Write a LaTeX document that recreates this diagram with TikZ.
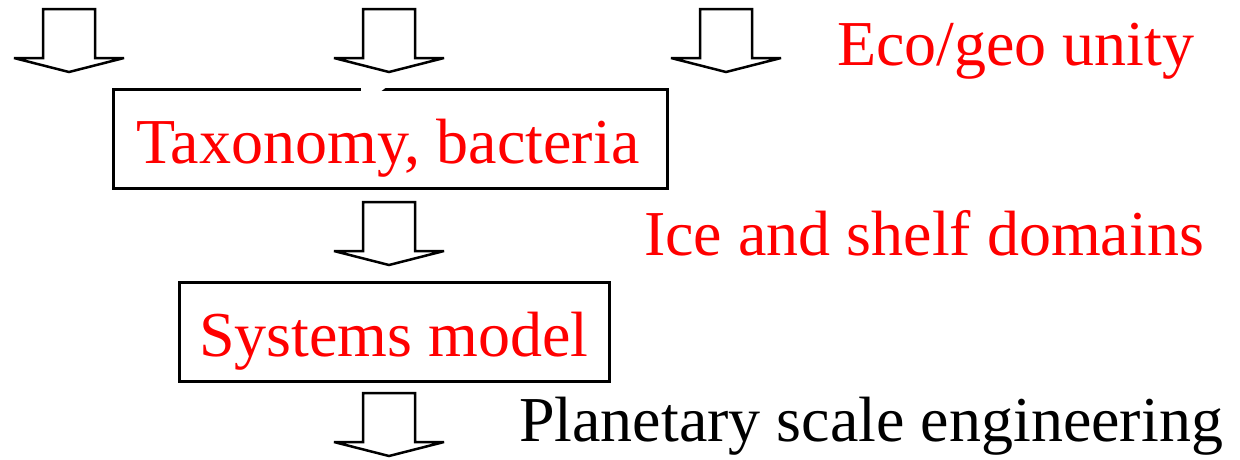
\documentclass[tikz,border=0pt]{standalone}
\usepackage{fontspec}
\setmainfont{Liberation Serif}
\begin{document}
\begin{tikzpicture}[x=1pt,y=-1pt,
  blockarrow/.pic={
    \draw[line width=2.5pt,fill=white,line join=miter,miter limit=2]
      (-26,0) -- (-26,49) -- (-55,49) -- (0,63) -- (55,49) -- (26,49) -- (26,0) -- cycle;
  },
  boxstyle/.style={draw=black,line width=3pt,fill=white},
  lbl/.style={anchor=base west,inner sep=0pt,font=\fontsize{64}{72}\selectfont},
  redlbl/.style={lbl,text=red}
]
\useasboundingbox (0,0) rectangle (1240,459);
% top arrows
\coordinate (a1) at (69,9);
\coordinate (a2) at (389,9);
\coordinate (a3) at (726,9);
\coordinate (a4) at (389,202);
\coordinate (a5) at (389,393);
\pic at (a1) {blockarrow};
\pic at (a3) {blockarrow};
% taxonomy box
\draw[boxstyle] (113,89) rectangle (667,188);
\fill[white] (361,86) -- (361,92) -- (380,92) -- (388,86) -- cycle;
\pic at (a2) {blockarrow};
\node[redlbl] (tax) at (136,163) {Taxonomy, bacteria};
\pic at (a4) {blockarrow};
% systems model box
\draw[boxstyle] (179,282) rectangle (609,381);
\node[redlbl] (sys) at (199,356) {Systems model};
\pic at (a5) {blockarrow};
% side labels
\node[redlbl] (eco) at (837,65) {Eco/geo unity};
\node[redlbl] (ice) at (644,255) {Ice and shelf domains};
\node[lbl] (plan) at (519,441) {Planetary scale engineering};
\end{tikzpicture}
\end{document}
